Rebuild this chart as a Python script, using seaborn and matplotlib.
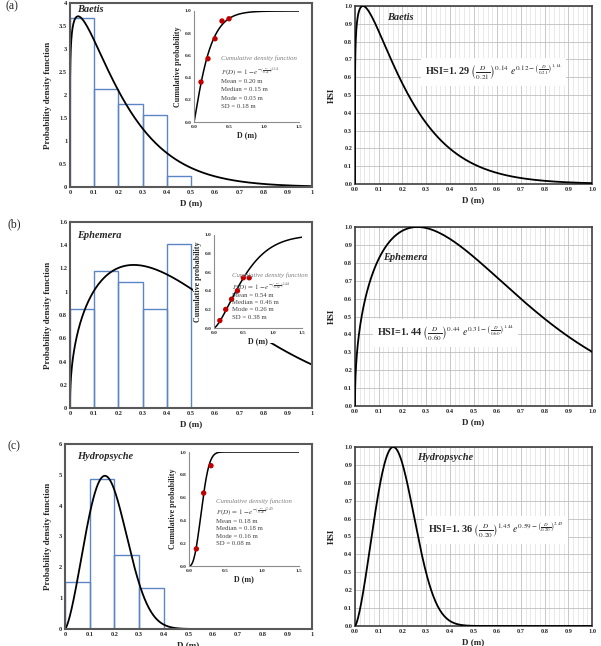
import numpy as np
import pandas as pd
import matplotlib
matplotlib.use("Agg")
import matplotlib.pyplot as plt
import seaborn as sns
from matplotlib.patches import Rectangle

sns.set_style("white")
plt.rcParams['font.family'] = ['Liberation Serif', 'DejaVu Serif']
plt.rcParams['mathtext.fontset'] = 'stix'

# ---------------- data ----------------
species = ["Baetis", "Ephemera", "Hydropsyche"]
panel_tags = ["(a)", "(b)", "(c)"]
bins_baetis = [0.0, 0.1, 0.2, 0.3, 0.4, 0.5]
bins_ephemera = [0.0, 0.1, 0.2, 0.3, 0.4, 0.5]
bins_hydro = [0.0, 0.1, 0.2, 0.3, 0.4]
hist_baetis = [3.67, 2.13, 1.80, 1.56, 0.24]
hist_ephemera = [0.85, 1.18, 1.08, 0.85, 1.41]
hist_hydro = [1.53, 4.88, 2.41, 1.33]
weib_scale = [0.21, 0.60, 0.20]
weib_shape = [1.14, 1.44, 2.45]
hsi_coef = ["1. 29", "1. 44", "1. 36"]
hsi_expo = ["0.12", "0.31", "0.59"]
scale_txt = ["0.21", "0.60", "0.20"]
shape_txt = ["1.14", "1.44", "2.45"]
pow_txt = ["0.14", "0.44", "1.45"]
cdf_x_baetis = [0.1, 0.2, 0.3, 0.4, 0.5]
cdf_y_baetis = [0.36, 0.57, 0.75, 0.91, 0.93]
cdf_x_ephemera = [0.1, 0.2, 0.3, 0.4, 0.5, 0.6]
cdf_y_ephemera = [0.08, 0.20, 0.31, 0.40, 0.54, 0.54]
cdf_x_hydro = [0.1, 0.2, 0.3]
cdf_y_hydro = [0.15, 0.64, 0.88]
stats_mean = ["0.20", "0.54", "0.18"]
stats_median = ["0.15", "0.46", "0.18"]
stats_mode = ["0.03", "0.26", "0.16"]
stats_sd = ["0.18", "0.38", "0.08"]
pdf_ylims = [4.0, 1.6, 6.0]
pdf_yticks = [[0, 0.5, 1, 1.5, 2, 2.5, 3, 3.5, 4],
              [0, 0.2, 0.4, 0.6, 0.8, 1, 1.2, 1.4, 1.6],
              [0, 1, 2, 3, 4, 5, 6]]
pdf_ytick_labels = [["0", "0.5", "1", "1.5", "2", "2.5", "3", "3.5", "4"],
                    ["0", "0.2", "0.4", "0.6", "0.8", "1", "1.2", "1.4", "1.6"],
                    ["0", "1", "2", "3", "4", "5", "6"]]
x_ticks = [0, 0.1, 0.2, 0.3, 0.4, 0.5, 0.6, 0.7, 0.8, 0.9, 1.0]
left_xtick_labels = ["0", "0.1", "0.2", "0.3", "0.4", "0.5", "0.6", "0.7", "0.8", "0.9", "1"]
right_tick_labels = ["0.0", "0.1", "0.2", "0.3", "0.4", "0.5", "0.6", "0.7", "0.8", "0.9", "1.0"]

all_bins = [bins_baetis, bins_ephemera, bins_hydro]
hists = [hist_baetis, hist_ephemera, hist_hydro]
cdf_xs = [cdf_x_baetis, cdf_x_ephemera, cdf_x_hydro]
cdf_ys = [cdf_y_baetis, cdf_y_ephemera, cdf_y_hydro]

# ---------------- layout (pixels) ----------------
W, H = 601, 646
fig = plt.figure(figsize=(W / 100, H / 100), dpi=100)


def rect(x0, y0, x1, y1):
    return [x0 / W, 1 - y1 / H, (x1 - x0) / W, (y1 - y0) / H]


left_rects = [rect(70, 3, 312, 187), rect(70, 222, 312, 408), rect(65, 444, 312, 629)]
right_rects = [rect(355, 6, 592, 184), rect(355, 227, 592, 406), rect(355, 447, 592, 626)]
inset_rects = [rect(194, 11, 299, 122), rect(214, 235, 302, 328), rect(189, 452, 299, 566)]
tag_pos = [(5, 6), (7, 224), (7, 446)]
left_name_pos = [(0.029, 0.962), (0.029, 0.925), (0.049, 0.935)]
right_name_pos = [(0.135, 0.938), (0.118, 0.832), (0.26, 0.939)]
formula_pos = [(0.295, 0.629), (0.093, 0.408), (0.308, 0.536)]
inset_txt_x = [0.257, 0.20, 0.245]
inset_txt_y = [[0.577, 0.459, 0.365, 0.29, 0.215, 0.14],
               [0.57, 0.455, 0.35, 0.272, 0.195, 0.118],
               [0.565, 0.475, 0.39, 0.325, 0.26, 0.195]]

BLUE = "#5b86c3"
SPINE = "#595959"
RED = "#c00000"
TF = 4.6
LF = 6.5
IF = 4.9


def weib_pdf(x, lam, k):
    return (k / lam) * (x / lam) ** (k - 1) * np.exp(-(x / lam) ** k)


def weib_cdf(x, lam, k):
    return 1 - np.exp(-(x / lam) ** k)


xs = np.concatenate([[0.0], np.geomspace(1e-4, 1.0, 700)])
xs_cdf = np.linspace(0, 1.5, 400)

for i in range(3):
    lam, k = weib_scale[i], weib_shape[i]
    # ---- left: histogram + pdf ----
    ax = fig.add_axes(left_rects[i])
    edges = all_bins[i]
    centers = [(edges[j] + edges[j + 1]) / 2 for j in range(len(edges) - 1)]
    dfh = pd.DataFrame({"D": centers, "w": hists[i]})
    sns.histplot(data=dfh, x="D", weights="w", bins=edges, fill=False,
                 color=BLUE, linewidth=1.0, ax=ax, zorder=1)
    pdf = weib_pdf(xs, lam, k)
    sns.lineplot(x=xs, y=pdf, color="black", linewidth=1.3, ax=ax, zorder=2)
    ax.set_xlim(0, 1)
    ax.set_ylim(0, pdf_ylims[i])
    ax.set_xticks(x_ticks)
    ax.set_xticklabels(left_xtick_labels)
    ax.set_yticks(pdf_yticks[i])
    ax.set_yticklabels(pdf_ytick_labels[i])
    ax.tick_params(length=0, pad=2, labelsize=TF)
    for lab in ax.get_xticklabels() + ax.get_yticklabels():
        lab.set_fontweight("bold")
    for s in ax.spines.values():
        s.set_color(SPINE)
        s.set_linewidth(1.5)
    ax.set_xlabel("D (m)", fontsize=LF, fontweight="bold", labelpad=3)
    ax.set_ylabel("Probability density function", fontsize=LF, fontweight="bold", labelpad=5)
    ax.text(left_name_pos[i][0], left_name_pos[i][1], species[i], transform=ax.transAxes,
            fontsize=7.5, fontweight="bold", fontstyle="italic", va="center", ha="left")
    fig.text(tag_pos[i][0] / W, 1 - tag_pos[i][1] / H, panel_tags[i], fontsize=8.5,
             va="center", ha="left")
    if i == 1:
        ax.add_patch(Rectangle((193 / W, 1 - 343 / H), (308 - 193) / W, (343 - 229) / H,
                               transform=fig.transFigure, facecolor="white",
                               edgecolor="none", zorder=5))

    # ---- inset: cdf ----
    ia = fig.add_axes(inset_rects[i])
    ia.set_facecolor("none")
    sns.lineplot(x=xs_cdf, y=weib_cdf(xs_cdf, lam, k), color="black", linewidth=1.1, ax=ia)
    sns.scatterplot(x=cdf_xs[i], y=cdf_ys[i], color=RED, s=15, edgecolor="none", ax=ia, zorder=3)
    ia.set_xlim(0, 1.5)
    ia.set_ylim(0, 1.0)
    ia.set_xticks([0, 0.5, 1.0, 1.5])
    ia.set_xticklabels(["0.0", "0.5", "1.0", "1.5"])
    ia.set_yticks([0, 0.2, 0.4, 0.6, 0.8, 1.0])
    ia.set_yticklabels(["0.0", "0.2", "0.4", "0.6", "0.8", "1.0"])
    ia.tick_params(length=0, pad=2, labelsize=3.9)
    for lab in ia.get_xticklabels() + ia.get_yticklabels():
        lab.set_fontweight("bold")
    ia.spines["top"].set_visible(False)
    ia.spines["right"].set_visible(False)
    ia.spines["left"].set_color("#8c8c8c")
    ia.spines["bottom"].set_color("#8c8c8c")
    ia.spines["left"].set_linewidth(0.8)
    ia.spines["bottom"].set_linewidth(0.8)
    ia.set_xlabel("D (m)", fontsize=5.8, fontweight="bold", labelpad=2)
    ia.set_ylabel("Cumulative probability", fontsize=5.8, fontweight="bold", labelpad=2)
    tx = inset_txt_x[i]
    ty = inset_txt_y[i]
    ia.text(tx, ty[0], "Cumulative density function", transform=ia.transAxes,
            fontsize=IF, fontstyle="italic", color="#7f7f7f", va="center", ha="left")
    ia.text(tx, ty[1], r"$F(D)\,=\,1-e^{-\left(\frac{D}{%s}\right)^{%s}}$" % (scale_txt[i], shape_txt[i]),
            transform=ia.transAxes, fontsize=5.0, color="#404040", va="center", ha="left")
    ia.text(tx, ty[2], "Mean = %s m" % stats_mean[i], transform=ia.transAxes, fontsize=IF,
            color="#404040", va="center", ha="left")
    ia.text(tx, ty[3], "Median = %s m" % stats_median[i], transform=ia.transAxes, fontsize=IF,
            color="#404040", va="center", ha="left")
    ia.text(tx, ty[4], "Mode = %s m" % stats_mode[i], transform=ia.transAxes, fontsize=IF,
            color="#404040", va="center", ha="left")
    ia.text(tx, ty[5], "SD = %s m" % stats_sd[i], transform=ia.transAxes, fontsize=IF,
            color="#404040", va="center", ha="left")

    # ---- right: HSI ----
    ar = fig.add_axes(right_rects[i])
    hsi = pdf / pdf.max()
    sns.lineplot(x=xs, y=hsi, color="black", linewidth=1.3, ax=ar, zorder=3)
    ar.set_xlim(0, 1)
    ar.set_ylim(0, 1)
    ar.set_xticks(x_ticks)
    ar.set_xticklabels(right_tick_labels)
    ar.set_yticks(x_ticks)
    ar.set_yticklabels(right_tick_labels)
    ar.set_xticks(np.arange(0, 1.0001, 0.02), minor=True)
    ar.grid(which="major", color="#bfbfbf", linewidth=0.6)
    ar.grid(which="minor", axis="x", color="#dcdcdc", linewidth=0.45)
    ar.set_axisbelow(True)
    ar.tick_params(which="both", length=0, pad=2, labelsize=TF)
    for lab in ar.get_xticklabels() + ar.get_yticklabels():
        lab.set_fontweight("bold")
    for s in ar.spines.values():
        s.set_color("#404040")
        s.set_linewidth(1.2)
    ar.set_xlabel("D (m)", fontsize=LF, fontweight="bold", labelpad=3)
    ar.set_ylabel("HSI", fontsize=LF, fontweight="bold", labelpad=6)
    ar.text(right_name_pos[i][0], right_name_pos[i][1], species[i], transform=ar.transAxes,
            fontsize=7.5, fontweight="bold", fontstyle="italic", va="center", ha="left")
    formula = (r"HSI=%s $\left(\frac{D}{%s}\right)^{%s}\ e^{%s-\left(\frac{D}{%s}\right)^{%s}}$"
               % (hsi_coef[i], scale_txt[i], pow_txt[i], hsi_expo[i], scale_txt[i], shape_txt[i]))
    ar.text(formula_pos[i][0], formula_pos[i][1], formula, transform=ar.transAxes,
            fontsize=7.3, fontweight="bold", va="center", ha="left", zorder=4,
            bbox=dict(facecolor="white", edgecolor="none", pad=3))

fig.savefig("out.png", dpi=100)
